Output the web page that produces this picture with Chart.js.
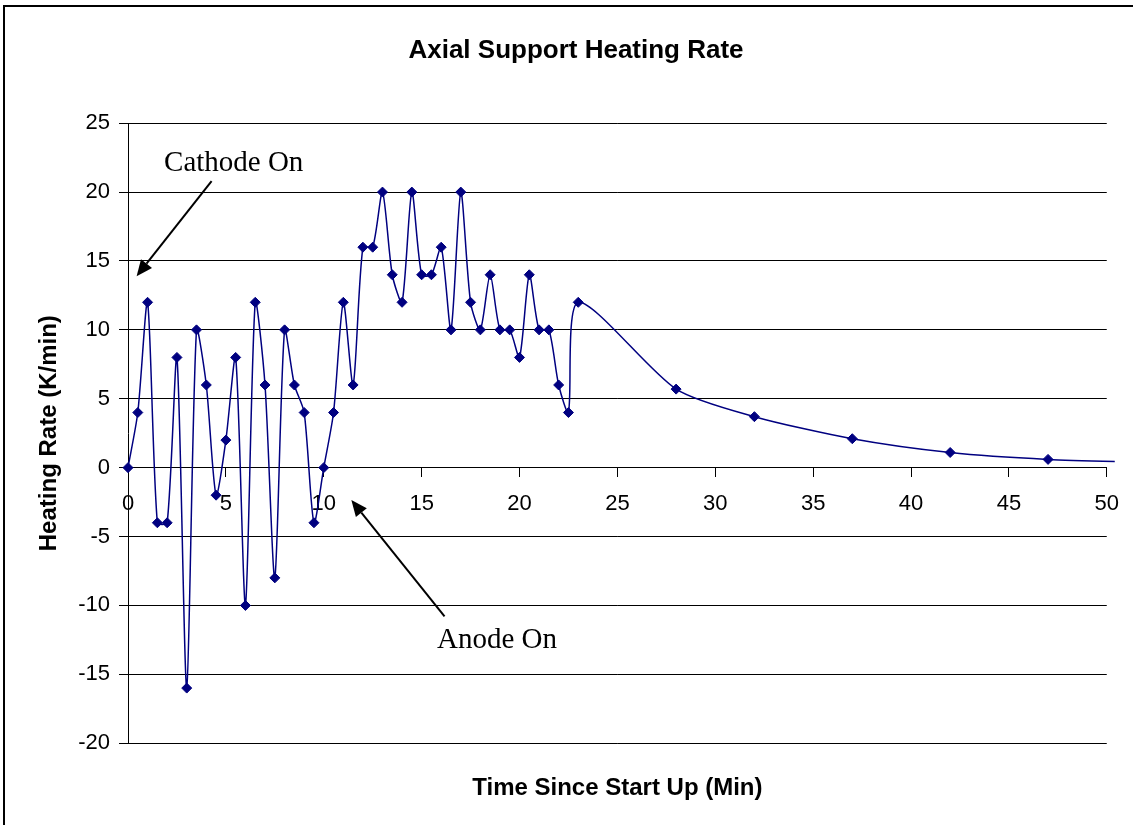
<!DOCTYPE html>
<html>
<head>
<meta charset="utf-8">
<script src="https://cdn.jsdelivr.net/npm/chart.js@4.4.1/dist/chart.umd.min.js"></script>
<style>
  html, body { margin: 0; padding: 0; background: #fff; overflow: hidden; }
  #wrap { position: relative; width: 1133px; height: 825px; }
  #frame { position: absolute; left: 3px; top: 5px; width: 1200px; height: 900px; border: 2px solid #000; box-sizing: border-box; }
  canvas { position: absolute; left: 0; top: 0; }
</style>
</head>
<body>
<div id="wrap">
  <div id="frame"></div>
  <canvas id="heatChart" width="1133" height="825"></canvas>
</div>
<script>
// ── Data ──
const times = [0, 0.5, 1, 1.5, 2, 2.5, 3, 3.5, 4, 4.5,
               5, 5.5, 6, 6.5, 7, 7.5, 8, 8.5, 9, 9.5,
               10, 10.5, 11, 11.5, 12, 12.5, 13, 13.5, 14, 14.5,
               15, 15.5, 16, 16.5, 17, 17.5, 18, 18.5, 19, 19.5,
               20, 20.5, 21, 21.5, 22, 22.5, 23, 28, 32, 37, 42, 47, 52];
const rates = [0, 4, 12, -4, -4, 8, -16, 10, 6, -2,
               2, 8, -10, 12, 6, -8, 10, 6, 4, -4,
               0, 4, 12, 6, 16, 16, 20, 14, 12, 20,
               14, 14, 16, 10, 20, 12, 10, 14, 10, 10,
               8, 14, 10, 10, 6, 4, 12, 5.7, 3.7, 2.1, 1.1, 0.6, 0.4];

const xTicks = [0, 5, 10, 15, 20, 25, 30, 35, 40, 45, 50];
const yTicks = [-20, -15, -10, -5, 0, 5, 10, 15, 20, 25];

// annotation text and arrows (data units)
const notes = ['Cathode On', 'Anode On'];
const noteAt = [[5.4, 21.5], [18.85, -13.1]];
const arrowFrom = [[4.27, 20.8], [16.17, -10.8]];
const arrowTo = [[0.44, 13.9], [11.41, -2.35]];

const SANS = '"Liberation Sans", Arial, sans-serif';
const SERIF = '"Liberation Serif", "Times New Roman", serif';

// ── Annotation plugin ──
const notesPlugin = {
  id: 'notes',
  afterDatasetsDraw(chart) {
    const { ctx, scales: { x, y } } = chart;
    ctx.save();
    ctx.fillStyle = '#000';
    ctx.strokeStyle = '#000';
    ctx.lineWidth = 2;
    ctx.font = '29px ' + SERIF;
    ctx.textAlign = 'center';
    ctx.textBaseline = 'alphabetic';
    notes.forEach((t, i) => {
      ctx.fillText(t, x.getPixelForValue(noteAt[i][0]), y.getPixelForValue(noteAt[i][1]));

      const x1 = x.getPixelForValue(arrowFrom[i][0]), y1 = y.getPixelForValue(arrowFrom[i][1]);
      const x2 = x.getPixelForValue(arrowTo[i][0]), y2 = y.getPixelForValue(arrowTo[i][1]);
      const a = Math.atan2(y2 - y1, x2 - x1);
      const len = 16, half = 7;
      const bx = x2 - Math.cos(a) * len, by = y2 - Math.sin(a) * len;
      ctx.beginPath();
      ctx.moveTo(x1, y1);
      ctx.lineTo(bx, by);
      ctx.stroke();
      ctx.beginPath();
      ctx.moveTo(x2, y2);
      ctx.lineTo(bx + Math.sin(a) * half, by - Math.cos(a) * half);
      ctx.lineTo(bx - Math.sin(a) * half, by + Math.cos(a) * half);
      ctx.closePath();
      ctx.fill();
    });
    ctx.restore();
  }
};

// ── Chart ──
function initHeatChart() {
  const ctx = document.getElementById('heatChart');

  new Chart(ctx, {
    type: 'line',
    data: {
      datasets: [{
        label: 'Heating Rate',
        data: times.map((t, i) => ({ x: t, y: rates[i] })),
        borderColor: '#000080',
        backgroundColor: '#000080',
        borderWidth: 1.5,
        pointStyle: 'rectRot',
        pointRadius: 5,
        pointBorderWidth: 1,
        pointBackgroundColor: '#000080',
        pointBorderColor: '#000080',
        tension: 0.25,
        clip: { left: 10, top: 10, right: 8, bottom: 10 },
        fill: false
      }]
    },
    options: {
      responsive: false,
      animation: false,
      events: [],
      layout: { padding: { left: 44, right: 25, top: 0, bottom: 0 } },
      plugins: {
        legend: { display: false },
        tooltip: { enabled: false },
        title: {
          display: true,
          text: 'Axial Support Heating Rate',
          color: '#000',
          font: { family: SANS, size: 26, weight: 'bold' },
          padding: { top: 35, bottom: 57 }
        },
        subtitle: {
          display: true,
          position: 'bottom',
          fullSize: false,
          text: 'Time Since Start Up (Min)',
          color: '#000',
          font: { family: SANS, size: 24, weight: 'bold' },
          padding: { top: 31, bottom: 22 }
        }
      },
      scales: {
        x: {
          type: 'linear',
          position: { y: 0 },
          min: xTicks[0],
          max: xTicks[xTicks.length - 1],
          afterBuildTicks: (s) => { s.ticks = xTicks.map(v => ({ value: v })); },
          ticks: { color: '#000', font: { family: SANS, size: 22 }, padding: 14, maxRotation: 0 },
          grid: { drawOnChartArea: false, drawTicks: true, tickLength: 9, color: '#000' },
          border: { display: true, color: '#000', width: 1 }
        },
        y: {
          min: yTicks[0],
          max: yTicks[yTicks.length - 1],
          afterBuildTicks: (s) => { s.ticks = yTicks.map(v => ({ value: v })); },
          afterFit: (s) => { s.width = 84; },
          ticks: { color: '#000', font: { family: SANS, size: 22 }, padding: 9 },
          grid: { color: '#000', lineWidth: 1, tickLength: 9 },
          border: { display: true, color: '#000', width: 1 },
          title: {
            display: true,
            text: 'Heating Rate (K/min)',
            color: '#000',
            font: { family: SANS, size: 24, weight: 'bold' },
            padding: { top: -9, bottom: 0 }
          }
        }
      }
    },
    plugins: [notesPlugin]
  });
}

initHeatChart();
</script>
</body>
</html>
